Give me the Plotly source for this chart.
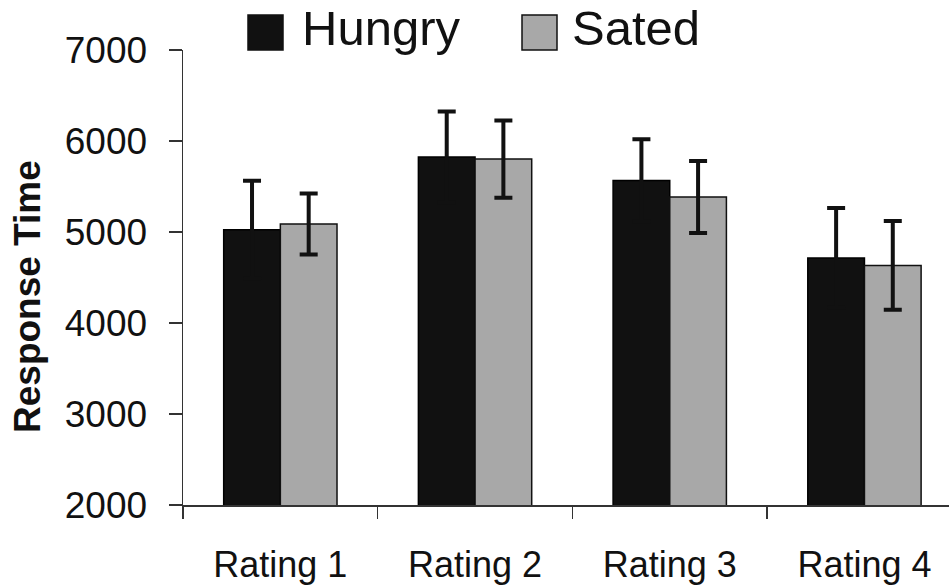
import plotly.graph_objects as go

categories = ["Rating 1", "Rating 2", "Rating 3", "Rating 4"]
hungry = [5025, 5823, 5566, 4715]
hungry_err = [538, 500, 454, 548]
sated = [5088, 5801, 5384, 4633]
sated_err = [335, 425, 395, 488]
y_ticks = [2000, 3000, 4000, 5000, 6000, 7000]

W, H = 949, 587
L, R, T, B = 183, 0, 50, 82
pw = W - L - R
ph = H - T - B

def px(x):
    return (x - L) / pw

def py(y):
    return (H - B - y) / ph

FONT = "Liberation Sans, Arial, sans-serif"
INK = "#111111"

fig = go.Figure()
fig.add_trace(go.Bar(
    x=categories, y=hungry, name="Hungry",
    marker=dict(color=INK, line=dict(color="#000000", width=1.5)),
    error_y=dict(type="data", array=hungry_err, visible=True,
                 color=INK, thickness=4, width=9),
    showlegend=False,
))
fig.add_trace(go.Bar(
    x=categories, y=sated, name="Sated",
    marker=dict(color="#a8a8a8", line=dict(color=INK, width=1.5)),
    error_y=dict(type="data", array=sated_err, visible=True,
                 color=INK, thickness=4, width=9),
    showlegend=False,
))

unit = 194.7
fig.update_layout(
    width=W, height=H,
    margin=dict(l=L, r=R, t=T, b=B),
    paper_bgcolor="white", plot_bgcolor="white",
    barmode="group", bargap=0.418, bargroupgap=0,
    font=dict(family=FONT, color=INK),
    showlegend=False,
    xaxis=dict(
        type="category", range=[-0.5, -0.5 + pw / unit],
        tickson="boundaries", ticks="outside", ticklen=12, tickwidth=1.5,
        tickcolor="#333333", showline=True, linecolor="#333333", linewidth=1.5,
        showgrid=False, zeroline=False,
        tickfont=dict(family=FONT, size=36, color=INK),
        ticklabelstandoff=27,
    ),
    yaxis=dict(
        range=[2000, 7000], tickvals=y_ticks, ticktext=[str(v) for v in y_ticks],
        ticks="outside", ticklen=13, tickwidth=1.5, tickcolor="#333333",
        showline=True, linecolor="#333333", linewidth=1.5,
        showgrid=False, zeroline=False,
        tickfont=dict(family=FONT, size=37, color=INK),
        ticklabelstandoff=14,
    ),
)

# y-axis title
fig.add_annotation(
    text="<b>Response Time</b>", textangle=-90,
    xref="paper", yref="paper", x=px(27), y=py(297),
    xanchor="center", yanchor="middle", showarrow=False,
    font=dict(family=FONT, size=37, color=INK), borderpad=0,
)

# legend
legend_items = [("Hungry", INK, 248, 301), ("Sated", "#a8a8a8", 522, 571)]
for name, color, sx, tx in legend_items:
    fig.add_shape(type="rect", xref="paper", yref="paper",
                  x0=px(sx), x1=px(sx + 35), y0=py(50), y1=py(15),
                  fillcolor=color, line=dict(color=INK, width=1.5))
    fig.add_annotation(
        text=name, xref="paper", yref="paper", x=px(tx), y=py(28),
        xanchor="left", yanchor="middle", showarrow=False,
        font=dict(family=FONT, size=49, color=INK), borderpad=0,
    )

fig.write_html("out.html",
               config={"displayModeBar": False, "staticPlot": True},
               post_script="document.body.style.margin='0';document.body.style.overflow='hidden';")
